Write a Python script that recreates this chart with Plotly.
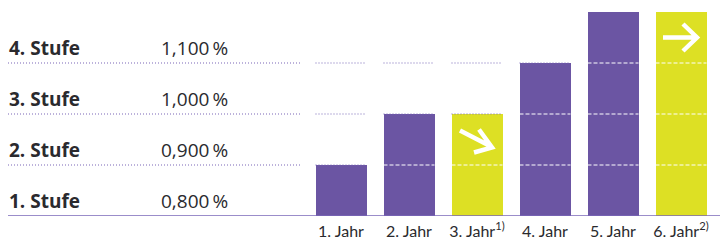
import plotly.graph_objects as go

# ---- data ----
years = ["1. Jahr", "2. Jahr", "3. Jahr<sup>1)</sup>", "4. Jahr", "5. Jahr", "6. Jahr<sup>2)</sup>"]
stufe_reached = [1, 2, 2, 3, 4, 4]          # bar height in steps
highlight = [False, False, True, False, False, True]
stufen = ["1. Stufe", "2. Stufe", "3. Stufe", "4. Stufe"]
rates = ["0,800\u2009%", "0,900\u2009%", "1,000\u2009%", "1,100\u2009%"]

PURPLE = "#6b55a3"
YELLOW = "#dde024"
LINE = "#7a67b8"
TEXT = "#2a2a2e"

W, H = 720, 241
PX_PER_CAT = 68.0
PX_PER_STEP = 51.0
BAR_W = 51.0 / PX_PER_CAT
FIRST_CENTER = 341.0
PLOT_H = 216

x_idx = list(range(len(years)))
x0 = -FIRST_CENTER / PX_PER_CAT
x1 = x0 + W / PX_PER_CAT
y_top = PLOT_H / PX_PER_STEP

fig = go.Figure()
fig.add_trace(go.Bar(
    x=x_idx, y=stufe_reached, width=BAR_W,
    marker=dict(color=[YELLOW if h else PURPLE for h in highlight], line=dict(width=0)),
    hoverinfo="skip",
))

DOT = "1px,2px"
shapes = []
for k in range(1, len(stufen)):
    shapes.append(dict(type="line", xref="paper", yref="y", x0=8 / W, x1=300 / W, y0=k, y1=k,
                       line=dict(color=LINE, width=1.2, dash=DOT)))
shapes.append(dict(type="line", xref="paper", yref="y", x0=8 / W, x1=1, y0=0, y1=0,
                   line=dict(color=LINE, width=1.5), layer="above"))
for i, v in enumerate(stufe_reached):
    for k in range(1, len(stufen)):
        if k < v:
            ln = dict(color="white", width=1, dash="4px,2px")
        else:
            ln = dict(color=LINE, width=1.2, dash=DOT)
        shapes.append(dict(type="line", xref="x", yref="y", x0=i - BAR_W / 2, x1=i + BAR_W / 2,
                           y0=k, y1=k, line=ln, layer="above"))

for i, (v, h) in enumerate(zip(stufe_reached, highlight)):
    if not h:
        continue
    if i == 2:
        path = "M-17,9 L14,-7 M2,10 L15,-8 L-3,-13"
    else:
        path = "M-18,0 L16,0 M2,13.5 L16,0 L2,-13.5"
    shapes.append(dict(type="path", xref="x", yref="y", xsizemode="pixel", ysizemode="pixel",
                       xanchor=i, yanchor=v - 0.5, path=path,
                       line=dict(color="white", width=4.5), layer="above"))

annotations = []
for k, (s, r) in enumerate(zip(stufen, rates)):
    yy = k + 0.29
    annotations.append(dict(xref="paper", yref="y", x=7 / W, y=yy, text="<b>%s</b>" % s,
                            showarrow=False, xanchor="left", yanchor="middle",
                            font=dict(size=19, color=TEXT, family="Open Sans")))
    annotations.append(dict(xref="paper", yref="y", x=159 / W, y=yy, text=r,
                            showarrow=False, xanchor="left", yanchor="middle",
                            font=dict(size=19, color=TEXT, family="Open Sans")))

fig.update_layout(
    width=W, height=H,
    margin=dict(l=0, r=0, t=0, b=H - PLOT_H),
    paper_bgcolor="white", plot_bgcolor="white",
    showlegend=False,
    shapes=shapes, annotations=annotations,
    xaxis=dict(range=[x0, x1], tickmode="array", tickvals=x_idx, ticktext=years,
               showgrid=False, zeroline=False, showline=False, ticks="",
               ticklabelstandoff=4,
               tickfont=dict(size=16, color=TEXT, family="Lato"), fixedrange=True),
    yaxis=dict(range=[0, y_top], showgrid=False, zeroline=False, showline=False,
               showticklabels=False, fixedrange=True),
    bargap=0,
)

fig.write_html("out.html", config={"displayModeBar": False},
               post_script="document.body.style.margin='0';document.body.style.padding='0';")
